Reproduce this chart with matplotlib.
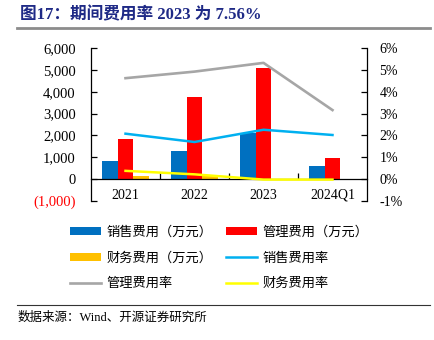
import matplotlib.pyplot as plt
from matplotlib.lines import Line2D
from matplotlib.ticker import FuncFormatter, FixedLocator
import numpy as np

plt.rcParams['font.family'] = ['Liberation Serif', 'Noto Sans CJK SC', 'DejaVu Sans']

periods = ['2021', '2022', '2023', '2024Q1']
sales_cost = [810, 1280, 2100, 590]        # 销售费用（万元）
admin_cost = [1830, 3750, 5080, 960]       # 管理费用（万元）
fin_cost = [160, 170, -20, -10]            # 财务费用（万元）
sales_rate = [2.08, 1.70, 2.26, 2.02]      # 销售费用率 %
admin_rate = [4.62, 4.92, 5.32, 3.16]      # 管理费用率 %
fin_rate = [0.38, 0.22, -0.02, -0.02]      # 财务费用率 %

fig = plt.figure(figsize=(4.34, 3.40), dpi=100)
ax = fig.add_axes([0.2097, 0.4088, 0.6359, 0.4500])
ax2 = ax.twinx()

x = np.arange(len(periods))
w = 0.225
b1 = ax.bar(x - w, sales_cost, w, color='#0070C0', zorder=2)
b2 = ax.bar(x, admin_cost, w, color='#FF0000', zorder=2)
b3 = ax.bar(x + w, fin_cost, w, color='#FFC000', zorder=2)

ax.set_zorder(1)
ax.patch.set_visible(False)
ax2.set_zorder(2)
l1, = ax2.plot(x, sales_rate, color='#00B0F0', lw=1.8)
l2, = ax2.plot(x, admin_rate, color='#A6A6A6', lw=1.9)
l3, = ax2.plot(x, fin_rate, color='#FFFF00', lw=1.8)

ax.set_xlim(-0.5, 3.5)
ax.set_ylim(-1000, 6000)
ax2.set_ylim(-1, 6)
ax.set_yticks(np.arange(-1000, 6001, 1000))
ax2.set_yticks(np.arange(-1, 7, 1))

def thousands(v, pos):
    if v < 0:
        return '({:,.0f})'.format(-v)
    return '{:,.0f}'.format(v)

ax.yaxis.set_major_formatter(FuncFormatter(thousands))
ax2.yaxis.set_major_formatter(FuncFormatter(lambda v, p: '{:.0f}%'.format(v)))

for a in (ax, ax2):
    a.spines['top'].set_visible(False)
ax2.spines['bottom'].set_visible(False)
ax2.spines['left'].set_visible(False)
ax.spines['right'].set_visible(False)
ax.spines['bottom'].set_position(('data', 0))
for s in ('left', 'bottom'):
    ax.spines[s].set_linewidth(0.9)
ax2.spines['right'].set_linewidth(0.9)

ax.set_xticks(x)
ax.set_xticklabels(periods)
ax.xaxis.set_minor_locator(FixedLocator([0.5, 1.5, 2.5]))
ax.tick_params(axis='x', which='major', length=0, pad=7, labelsize=10)
ax.tick_params(axis='x', which='minor', length=4, direction='in', width=0.9)
ax.tick_params(axis='y', direction='in', length=4, width=0.9, pad=11, labelsize=10.5)
ax2.tick_params(axis='y', direction='in', length=4, width=0.9, pad=9, labelsize=10)

for lab in ax.get_yticklabels():
    if lab.get_text().startswith('('):
        lab.set_color('#FF0000')

handles = [b1, b3, l2, b2, l1, l3]
labels = ['销售费用（万元）', '财务费用（万元）', '管理费用率',
          '管理费用（万元）', '销售费用率', '财务费用率']
fig.legend(handles, labels, ncol=2, loc='upper left', bbox_to_anchor=(0.133, 0.37),
           frameon=False, handlelength=2.35, handleheight=0.55,
           handletextpad=0.45, columnspacing=1.0, labelspacing=0.95,
           prop={'family': ['Noto Sans CJK SC'], 'size': 9.5})

fig.text(0.046, 1 - 15 / 340, '图17：期间费用率 2023 为 7.56%', fontsize=12,
         fontweight='bold', color='#1F2A86', va='center', ha='left')
fig.add_artist(Line2D([17 / 434, 430 / 434], [1 - 28 / 340] * 2, color='#8C8C8C', lw=2))
fig.add_artist(Line2D([17 / 434, 430 / 434], [1 - 305 / 340] * 2, color='#333333', lw=0.8))
fig.text(0.041, 1 - 318 / 340, '数据来源：Wind、开源证券研究所', fontsize=9,
         va='center', ha='left')

fig.savefig('out.png', dpi=100)
